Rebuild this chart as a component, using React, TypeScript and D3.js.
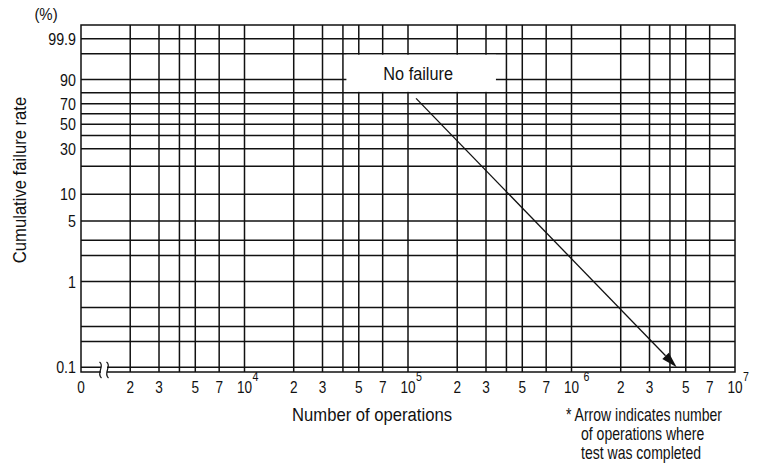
import * as d3 from "d3";

// grid lines of the Weibull paper (percent) and the labelled ones
const rateGrid = [99.9, 99, 90, 80, 70, 60, 50, 40, 30, 20, 10, 5, 3, 2, 1, 0.5, 0.3, 0.2, 0.1];
const rateLabels = ["99.9", "90", "70", "50", "30", "10", "5", "1", "0.1"];

// vertical grid lines (number of operations)
const opsGrid = [
  2e3, 3e3, 4e3, 5e3, 7e3, 1e4,
  2e4, 3e4, 4e4, 5e4, 7e4, 1e5,
  2e5, 3e5, 4e5, 5e5, 7e5, 1e6,
  2e6, 3e6, 4e6, 5e6, 7e6,
];
const opsTickValues = [2e3, 3e3, 5e3, 7e3, 2e4, 3e4, 5e4, 7e4, 2e5, 3e5, 5e5, 7e5, 2e6, 3e6, 5e6, 7e6];
const opsTickText = ["2", "3", "5", "7", "2", "3", "5", "7", "2", "3", "5", "7", "2", "3", "5", "7"];
const opsPowerValues = [1e4, 1e5, 1e6, 1e7];
const opsPowerText = ["4", "5", "6", "7"];

// arrow: no failure up to the end of the test
const arrowFrom = { ops: 1.12e5, rate: 75 };
const arrowTo = { ops: 4.4e6, rate: 0.1 };

const footnote = ["* Arrow indicates number", "of operations where", "test was completed"];

const W = 757;
const H = 468;
const left = 81;
const right = 735;
const top = 25;
const bottom = 372;
const FONT = "'Liberation Sans', Arial, Helvetica, sans-serif";
const INK = "#111";

const weib = (p: number) => Math.log(-Math.log(1 - p / 100));

const x = d3.scaleLog().domain([1e3, 1e7]).range([left, right]);
const y = d3.scaleLinear().domain([weib(99.9), weib(0.1)]).range([38.7, 367.3]);
const yr = (p: number) => y(weib(p));

// narrow type, like the condensed face of the original
function CText({ x, y, size, sx = 0.85, anchor = "start", rotate = 0, children }: any) {
  return (
    <g transform={`translate(${x},${y}) rotate(${rotate})`}>
      <text
        transform={`scale(${sx},1)`}
        textAnchor={anchor}
        fontSize={size}
        fontFamily={FONT}
        fill={INK}
      >
        {children}
      </text>
    </g>
  );
}

export default function App() {
  const ax = x(arrowFrom.ops);
  const ay = yr(arrowFrom.rate);
  const bx = x(arrowTo.ops);
  const by = yr(arrowTo.rate);
  const ang = Math.atan2(by - ay, bx - ax);
  const headLen = 16;
  const headW = 4.5;
  const hx = bx - headLen * Math.cos(ang);
  const hy = by - headLen * Math.sin(ang);
  const head = [
    [bx, by],
    [hx + headW * Math.sin(ang), hy - headW * Math.cos(ang)],
    [hx - headW * Math.sin(ang), hy + headW * Math.cos(ang)],
  ];

  // white label box between the 99 % and 80 % lines
  const boxX0 = x(4.2e4);
  const boxX1 = x(3.45e5);
  const boxY0 = yr(99) + 1;
  const boxY1 = yr(80) - 1;

  const brk = 104;
  const squiggle = (cx: number) =>
    `M${cx - 1},${bottom - 10} C${cx + 5},${bottom - 6} ${cx - 5},${bottom + 1} ${cx + 1},${bottom + 6}`;

  const tickSize = 17;
  const tickSx = 0.8;

  return (
    <svg
      width={W}
      height={H}
      viewBox={`0 0 ${W} ${H}`}
      style={{ position: "absolute", left: 0, top: 0, background: "#fff" }}
    >
      <rect x={0} y={0} width={W} height={H} fill="#fff" />
      <g stroke={INK} strokeWidth={1.5} fill="none">
        {rateGrid.map((p) => (
          <line key={p} x1={left} x2={right} y1={yr(p)} y2={yr(p)} />
        ))}
        {opsGrid.map((v) => (
          <line key={v} x1={x(v)} x2={x(v)} y1={top} y2={bottom} />
        ))}
        <rect x={left} y={top} width={right - left} height={bottom - top} />
      </g>

      {/* label box */}
      <rect x={boxX0} y={boxY0} width={boxX1 - boxX0} height={boxY1 - boxY0} fill="#fff" />
      <CText x={(boxX0 + boxX1) / 2 - 3} y={(boxY0 + boxY1) / 2 + 6.5} size={18.5} sx={0.88} anchor="middle">
        No failure
      </CText>

      {/* axis break */}
      <rect x={brk - 3} y={bottom - 9} width={6} height={14} fill="#fff" />
      <path d={squiggle(brk - 3.5)} stroke={INK} strokeWidth={1.2} fill="none" />
      <path d={squiggle(brk + 3.5)} stroke={INK} strokeWidth={1.2} fill="none" />

      {/* arrow */}
      <line x1={ax} y1={ay} x2={hx} y2={hy} stroke={INK} strokeWidth={1.3} />
      <polygon points={head.map((p) => p.join(",")).join(" ")} fill={INK} />

      {/* y tick labels */}
      {rateLabels.map((t) => (
        <CText key={t} x={76} y={yr(+t) + 6} size={tickSize} sx={0.84} anchor="end">
          {t}
        </CText>
      ))}
      <CText x={46} y={20} size={17} sx={0.88} anchor="middle">
        (%)
      </CText>

      {/* x tick labels */}
      <CText x={left} y={393} size={tickSize} sx={tickSx} anchor="middle">
        0
      </CText>
      {opsTickValues.map((v, i) => (
        <CText key={v} x={x(v)} y={393} size={tickSize} sx={tickSx} anchor="middle">
          {opsTickText[i]}
        </CText>
      ))}
      {opsPowerValues.map((v, i) => (
        <g key={v}>
          <CText x={x(v)} y={393} size={tickSize} sx={tickSx} anchor="middle">
            10
          </CText>
          <CText x={x(v) + (v === 1e6 ? 12 : 8)} y={381} size={12.5} sx={0.85}>
            {opsPowerText[i]}
          </CText>
        </g>
      ))}

      {/* axis titles */}
      <CText x={25.5} y={180} size={18.5} sx={0.9} anchor="middle" rotate={-90}>
        Cumulative failure rate
      </CText>
      <CText x={372} y={421} size={18.5} sx={0.9} anchor="middle">
        Number of operations
      </CText>

      {/* footnote */}
      {footnote.map((line, i) => (
        <CText key={line} x={i === 0 ? 566 : 581} y={421 + i * 18.8} size={18} sx={0.78}>
          {line}
        </CText>
      ))}
    </svg>
  );
}
